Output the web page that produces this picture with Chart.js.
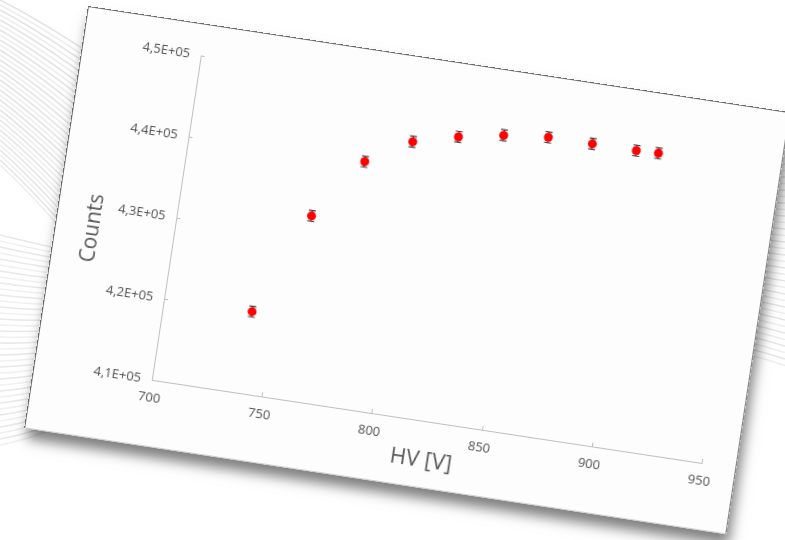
<!DOCTYPE html>
<html>
<head>
<meta charset="utf-8">
<script src="https://cdn.jsdelivr.net/npm/chart.js@4.4.1/dist/chart.umd.min.js"></script>
<style>
  html, body { margin: 0; padding: 0; background: #fff; }
  body { width: 785px; height: 540px; position: relative; overflow: hidden; }
  #bg { position: absolute; left: 0; top: 0; }
  #card {
    position: absolute; left: 88px; top: 6px; width: 710px; height: 427px;
    transform-origin: 0 0; transform: rotate(8.6deg);
    background: #fdfdfd;
    box-shadow: 4px 10px 12px rgba(0, 0, 0, 0.5);
  }
  #card canvas { position: absolute; left: 0; top: 0; }
  #frame {
    position: absolute; left: 0; top: 0; width: 710px; height: 427px; box-sizing: border-box;
    border-top: 1.5px solid #6b6b6b; border-left: 1.5px solid #6b6b6b;
    border-right: 1px solid #8a8a8a; border-bottom: 1px solid #cfcfcf;
    pointer-events: none;
  }
</style>
</head>
<body>
<canvas id="bg" width="785" height="540"></canvas>
<div id="card">
  <canvas id="chart" width="710" height="427"></canvas>
  <div id="frame"></div>
</div>
<script>
// measured plateau scan
const hv = [740, 760, 780, 800, 820, 840, 860, 880, 900, 910];
const counts = [420040, 432670, 440180, 443460, 444880, 445890, 446460, 446480, 446460, 446550];
const countErr = [650, 660, 665, 665, 667, 668, 668, 668, 668, 668];

const yTickLabels = ['4,1E+05', '4,2E+05', '4,3E+05', '4,4E+05', '4,5E+05'];
const xTitle = 'HV [V]';
const yTitle = 'Counts';

// faint streaks behind the card (decoration only)
function drawBackground() {
  const ctx = document.getElementById('bg').getContext('2d');
  ctx.lineWidth = 1.6;
  for (let i = 0; i < 34; i++) {
    ctx.strokeStyle = i % 2 ? '#eeeeee' : '#e5e5e5';
    ctx.beginPath();
    ctx.moveTo(0, i * 5);
    ctx.quadraticCurveTo(40, 20 + i * 5.5, 100, 60 + i * 6.5);
    ctx.stroke();
  }
  for (let i = 0; i < 36; i++) {
    ctx.strokeStyle = i % 2 ? '#f0f0f0' : '#e8e8e8';
    ctx.beginPath();
    ctx.moveTo(0, 235 + i * 6);
    ctx.quadraticCurveTo(40, 245 + i * 5.5, 90, 255 + i * 4.5);
    ctx.stroke();
  }
  for (let i = 0; i < 40; i++) {
    ctx.strokeStyle = i % 2 ? '#eeeeee' : '#e6e6e6';
    ctx.beginPath();
    ctx.moveTo(700, 110 + i * 6);
    ctx.quadraticCurveTo(745, 118 + i * 6, 785, 112 + i * 6.5);
    ctx.stroke();
  }
}
drawBackground();

Chart.defaults.font.family = "'Open Sans', sans-serif";

const errorBars = {
  id: 'errorBars',
  beforeDatasetsDraw(chart) {
    const { ctx, scales: { x, y } } = chart;
    ctx.save();
    ctx.strokeStyle = '#404040';
    ctx.lineWidth = 1.2;
    hv.forEach((v, i) => {
      const px = x.getPixelForValue(v);
      const top = y.getPixelForValue(counts[i] + countErr[i]);
      const bot = y.getPixelForValue(counts[i] - countErr[i]);
      ctx.beginPath();
      ctx.moveTo(px, top); ctx.lineTo(px, bot);
      ctx.moveTo(px - 3.5, top); ctx.lineTo(px + 3.5, top);
      ctx.moveTo(px - 3.5, bot); ctx.lineTo(px + 3.5, bot);
      ctx.stroke();
    });
    ctx.restore();
  }
};

// small inside tick marks + the y title (sits a bit below centre, as in the original)
const axisExtras = {
  id: 'axisExtras',
  afterDraw(chart) {
    const { ctx, chartArea, scales: { x, y } } = chart;
    ctx.save();
    ctx.strokeStyle = '#bfbfbf';
    ctx.lineWidth = 1;
    ctx.beginPath();
    x.ticks.forEach(t => {
      const px = Math.round(x.getPixelForValue(t.value)) + 0.5;
      ctx.moveTo(px, chartArea.bottom); ctx.lineTo(px, chartArea.bottom - 4);
    });
    y.ticks.forEach(t => {
      const py = Math.round(y.getPixelForValue(t.value)) + 0.5;
      ctx.moveTo(chartArea.left, py); ctx.lineTo(chartArea.left + 4, py);
    });
    ctx.stroke();

    ctx.translate(y.left + 11, (chartArea.top + chartArea.bottom) / 2 + 23);
    ctx.rotate(-Math.PI / 2);
    ctx.font = "21px 'Open Sans', sans-serif";
    ctx.fillStyle = '#595959';
    ctx.textAlign = 'center';
    ctx.textBaseline = 'middle';
    ctx.fillText(yTitle, 0, 0);
    ctx.restore();
  }
};

new Chart(document.getElementById('chart').getContext('2d'), {
  type: 'scatter',
  data: {
    datasets: [{
      label: yTitle,
      data: hv.map((v, i) => ({ x: v, y: counts[i] })),
      backgroundColor: '#ff0000',
      borderColor: '#ff0000',
      borderWidth: 0,
      pointRadius: 4.5,
      pointHoverRadius: 4.5,
    }],
  },
  options: {
    responsive: false,
    animation: false,
    events: [],
    layout: { padding: { left: 27, top: 32, right: 35, bottom: 14 } },
    plugins: { legend: { display: false }, tooltip: { enabled: false } },
    scales: {
      x: {
        type: 'linear', min: 700, max: 950,
        ticks: { stepSize: 50, color: '#505050', font: { size: 13 }, padding: 10, maxRotation: 0 },
        grid: { drawOnChartArea: false, drawTicks: false },
        border: { color: '#bfbfbf', width: 1 },
        title: { display: true, text: xTitle, color: '#595959', font: { size: 22 }, padding: 0 },
        afterFit(s) { s.height = 53; },
      },
      y: {
        type: 'linear', min: 410000, max: 450000,
        ticks: {
          stepSize: 10000, color: '#505050', font: { size: 13 }, padding: 11,
          callback: (v, i) => yTickLabels[i],
        },
        grid: { drawOnChartArea: false, drawTicks: false },
        border: { color: '#bfbfbf', width: 1 },
        title: { display: false },
        afterFit(s) { s.width = 92; },
      },
    },
  },
  plugins: [errorBars, axisExtras],
});
</script>
</body>
</html>
